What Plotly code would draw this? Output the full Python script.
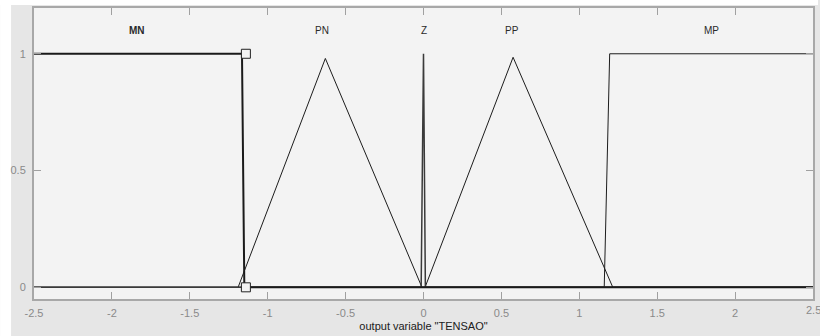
import plotly.graph_objects as go

# Membership functions (x, y vertices over the output range)
mf_names = ["MN", "PN", "Z", "PP", "MP"]
mn_x = [-2.5, -1.165, -1.15, 2.5]
mn_y = [1, 1, 0, 0]
pn_x = [-2.5, -1.19, -0.63, -0.01, 2.5]
pn_y = [0, 0, 0.98, 0, 0]
z_x = [-2.5, -0.015, 0.0, 0.012, 2.5]
z_y = [0, 0, 1, 0, 0]
pp_x = [-2.5, 0.01, 0.575, 1.215, 2.5]
pp_y = [0, 0, 0.985, 0, 0]
mp_x = [-2.5, 1.16, 1.195, 2.5]
mp_y = [0, 0, 1, 1]
sel_x = [-1.14, -1.14]
sel_y = [1, 0]
label_x = [-1.84, -0.65, 0.0, 0.566, 1.846]
label_y = [1.10, 1.10, 1.10, 1.10, 1.10]
xticks = [-2.5, -2, -1.5, -1, -0.5, 0, 0.5, 1, 1.5, 2, 2.5]
xtick_text = ["-2.5", "-2", "-1.5", "-1", "-0.5", "0", "0.5", "1", "1.5", "2", "2.5"]
yticks = [0, 0.5, 1]
ytick_text = ["0", "0.5", "1"]

fig = go.Figure()
thin = dict(color="#1c1c1c", width=1)
for xs, ys in [(pn_x, pn_y), (pp_x, pp_y), (mp_x, mp_y)]:
    fig.add_trace(go.Scatter(x=xs, y=ys, mode="lines", line=thin, hoverinfo="skip"))
fig.add_trace(go.Scatter(x=z_x, y=z_y, mode="lines", line=dict(color="#3a3a3a", width=1.5), hoverinfo="skip"))
fig.add_trace(go.Scatter(x=mn_x, y=mn_y, mode="lines", line=dict(color="#1a1a1a", width=2), hoverinfo="skip"))
fig.add_trace(go.Scatter(x=sel_x, y=sel_y, mode="markers",
                         marker=dict(symbol="square", size=9, color="#f3f3f3",
                                     line=dict(color="#222222", width=1)), hoverinfo="skip"))

for i, name in enumerate(mf_names):
    fig.add_annotation(x=label_x[i], y=label_y[i], text=("<b>%s</b>" % name) if name == "MN" else name,
                       showarrow=False, xref="x", yref="y",
                       font=dict(family="Liberation Sans, Arial", size=10, color="#2a2a2a"))

# last x tick label (clipped at the window edge, as in the original)
fig.add_annotation(x=xticks[-1], y=0, xref="x", yref="paper", yanchor="top", yshift=-3,
                   text=xtick_text[-1], showarrow=False,
                   font=dict(family="Liberation Sans, Arial", size=11, color="#8a8a8a"))

fig.update_layout(
    width=820, height=336,
    margin=dict(l=34, r=5, t=8, b=37),
    paper_bgcolor="#e6e6e6",
    plot_bgcolor="#f3f3f3",
    showlegend=False,
    font=dict(family="Liberation Sans, Arial", size=11, color="#8a8a8a"),
    shapes=[
        dict(type="rect", xref="paper", yref="paper", x0=-34/781, x1=-23/781, y0=-37/291, y1=1+8/291,
             fillcolor="#ffffff", line=dict(width=0), layer="below"),
        dict(type="rect", xref="paper", yref="paper", x0=-34/781, x1=1+5/781, y0=1+3/291, y1=1+8/291,
             fillcolor="#ffffff", line=dict(width=0), layer="below"),
    ],
)
fig.update_xaxes(range=[-2.5, 2.5], tickvals=xticks[:-1], ticktext=xtick_text[:-1],
                 ticks="inside", ticklen=7, tickcolor="#a0a0a0", tickwidth=1,
                 showline=True, linecolor="#a8a8a8", linewidth=2, mirror="ticks",
                 showgrid=False, zeroline=False, ticklabelstandoff=3,
                 title=dict(text='output variable "TENSAO"', standoff=4,
                            font=dict(size=11, color="#202020")))
fig.update_yaxes(range=[-0.05, 1.196], tickvals=yticks, ticktext=ytick_text,
                 ticks="inside", ticklen=7, tickcolor="#a0a0a0", tickwidth=1,
                 showline=True, linecolor="#a8a8a8", linewidth=2, mirror="ticks",
                 showgrid=False, zeroline=False, ticklabelstandoff=4)

fig.write_html("out.html")
